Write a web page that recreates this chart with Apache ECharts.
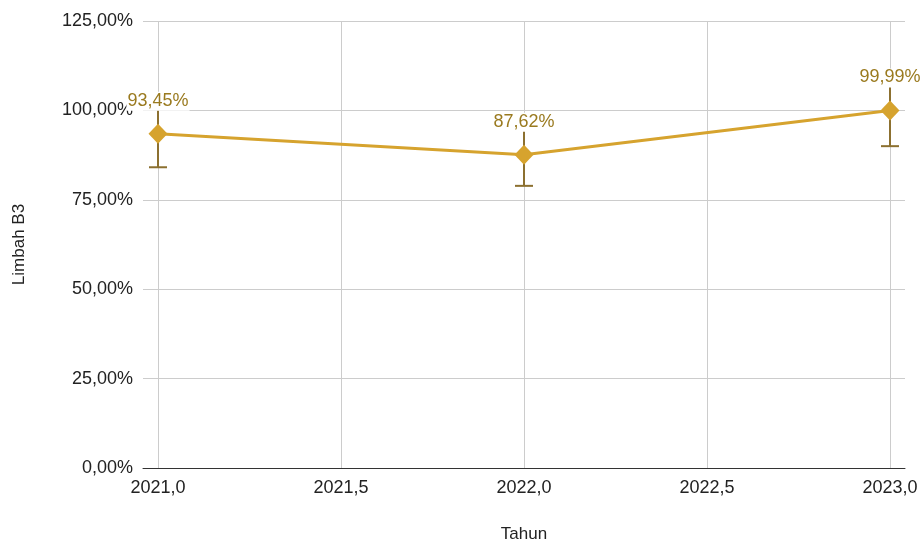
<!DOCTYPE html>
<html>
<head>
<meta charset="utf-8">
<script src="https://cdn.jsdelivr.net/npm/echarts@6/dist/echarts.min.js"></script>
<style>
  html, body { margin: 0; padding: 0; background: #fff; }
  #chart { width: 922px; height: 542px; }
</style>
</head>
<body>
<div id="chart"></div>
<script>
// data
var tahun = [2021, 2022, 2023];
var limbahB3 = [93.45, 87.62, 99.99];
var errLow = [84.1, 78.9, 90.0];
var errHigh = [102.8, 96.4, 110.0];

var font = 'Liberation Sans, Arial, sans-serif';

function fmtPct(v) {
    return v.toFixed(2).replace('.', ',') + '%';
}

var pointData = tahun.map(function (t, i) { return [t, limbahB3[i]]; });
var errData = tahun.map(function (t, i) { return [t, errLow[i], errHigh[i]]; });

var myChart = echarts.init(document.getElementById('chart'));

var option = {
    animation: false,
    grid: [
        { left: 143, right: 17, top: 21, bottom: 74, outerBoundsMode: 'none' },
        { left: 158, right: 32, top: 21, bottom: 74, outerBoundsMode: 'none' }
    ],
    xAxis: [
        {
            gridIndex: 0,
            type: 'value',
            min: 0,
            max: 1,
            axisLine: { show: true, lineStyle: { color: '#333', width: 1 } },
            axisTick: { show: false },
            axisLabel: { show: false },
            splitLine: { show: false }
        },
        {
            gridIndex: 1,
            type: 'value',
            min: 2021,
            max: 2023,
            interval: 0.5,
            name: 'Tahun',
            nameLocation: 'middle',
            nameGap: 58,
            nameTextStyle: { color: '#222', fontSize: 17, fontFamily: font },
            axisLine: { show: false },
            axisTick: { show: false },
            axisLabel: {
                color: '#222',
                fontSize: 18,
                fontFamily: font,
                margin: 11,
                formatter: function (v) { return v.toFixed(1).replace('.', ','); }
            },
            splitLine: { show: true, lineStyle: { color: '#cccccc', width: 1 } }
        }
    ],
    yAxis: [
        {
            gridIndex: 0,
            type: 'value',
            min: 0,
            max: 125,
            interval: 25,
            name: 'Limbah B3',
            nameLocation: 'middle',
            nameGap: 115,
            nameRotate: 90,
            nameTextStyle: { color: '#222', fontSize: 17, fontFamily: font },
            axisLine: { show: false },
            axisTick: { show: false },
            axisLabel: {
                color: '#222',
                fontSize: 18,
                fontFamily: font,
                margin: 10,
                formatter: fmtPct
            },
            splitLine: { show: true, lineStyle: { color: '#cccccc', width: 1 } }
        },
        {
            gridIndex: 1,
            type: 'value',
            min: 0,
            max: 125,
            show: false
        }
    ],
    series: [
        {
            name: 'error',
            type: 'custom',
            xAxisIndex: 1,
            yAxisIndex: 1,
            z: 2,
            data: errData,
            renderItem: function (params, api) {
                var lo = api.coord([api.value(0), api.value(1)]);
                var hi = api.coord([api.value(0), api.value(2)]);
                var half = 9;
                var style = { stroke: '#8c7030', lineWidth: 2 };
                return {
                    type: 'group',
                    children: [
                        { type: 'line', shape: { x1: lo[0], y1: lo[1], x2: hi[0], y2: hi[1] }, style: style },
                        { type: 'line', shape: { x1: lo[0] - half, y1: lo[1], x2: lo[0] + half, y2: lo[1] }, style: style },
                        { type: 'line', shape: { x1: hi[0] - half, y1: hi[1], x2: hi[0] + half, y2: hi[1] }, style: style }
                    ]
                };
            }
        },
        {
            name: 'Limbah B3',
            type: 'line',
            xAxisIndex: 1,
            yAxisIndex: 1,
            z: 3,
            data: pointData,
            symbol: 'diamond',
            symbolSize: [19, 20],
            lineStyle: { color: '#d6a32e', width: 3 },
            itemStyle: { color: '#d6a32e' },
            label: {
                show: true,
                position: 'top',
                distance: 13,
                color: '#9a7a1f',
                fontSize: 18,
                fontFamily: font,
                backgroundColor: '#ffffff',
                padding: [0, 1, 1, 1],
                formatter: function (p) { return fmtPct(p.value[1]); }
            }
        }
    ]
};

myChart.setOption(option);
</script>
</body>
</html>
